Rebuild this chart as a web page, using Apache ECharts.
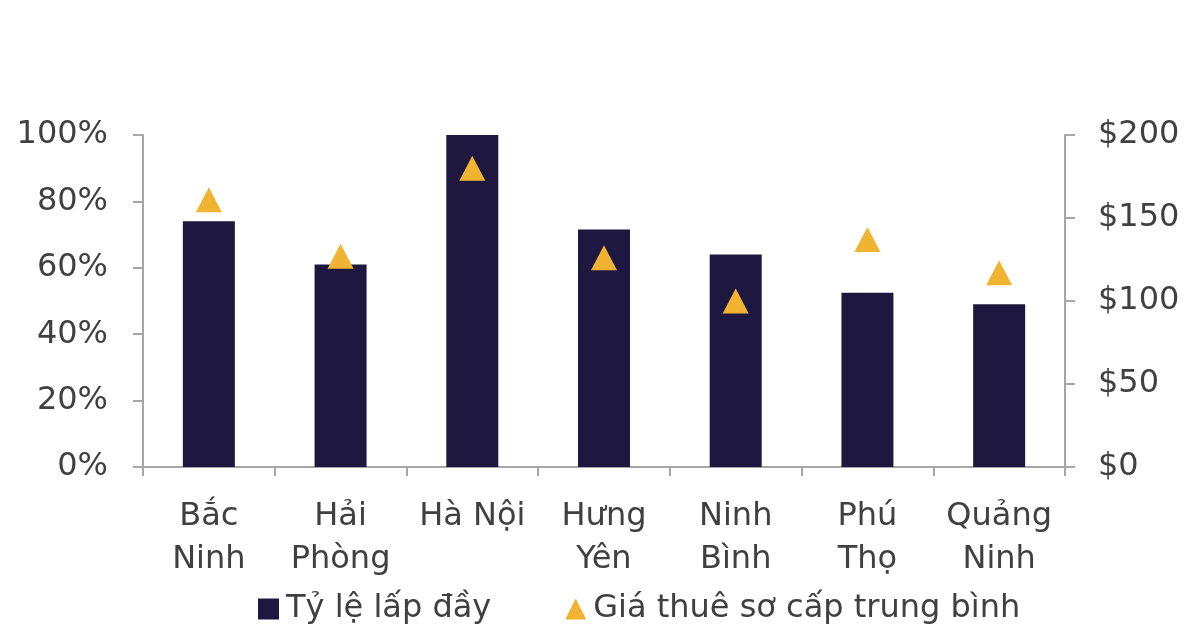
<!DOCTYPE html>
<html>
<head>
    <meta charset="UTF-8">
    <title>Tỷ lệ lấp đầy và giá thuê</title>
    <style type="text/css">
        html, body {
            margin: 0;
            padding: 0;
            background: #ffffff;
        }
        #chart {
            width: 1200px;
            height: 630px;
        }
    </style>
    <script src="https://cdn.jsdelivr.net/npm/echarts@6/dist/echarts.min.js"></script>
</head>
<body>
<div id="chart"></div>
<script>
    // du lieu doc tu hinh
    const provinces = ['Bắc\nNinh', 'Hải\nPhòng', 'Hà Nội', 'Hưng\nYên', 'Ninh\nBình', 'Phú\nThọ', 'Quảng\nNinh'];
    const occupancy = [74, 61, 100, 71.5, 64, 52.5, 49];
    const rent = [161, 127, 180, 126, 100, 137, 117];
    const occupancyTicks = [0, 20, 40, 60, 80, 100];
    const rentTicks = [0, 50, 100, 150, 200];

    const axisGrey = '#a6a6a6';
    const textGrey = '#404040';
    const font = 'DejaVu Sans, Liberation Sans, Arial, sans-serif';

    let myChart = echarts.init(document.getElementById('chart'));

    let option = {
        animation: false,
        grid: {
            left: 143,
            right: 135,
            top: 135,
            bottom: 163
        },
        legend: {
            left: 253,
            top: 588,
            itemGap: 74,
            itemWidth: 21,
            itemHeight: 21,
            textStyle: {
                fontFamily: font,
                fontSize: 32,
                color: textGrey,
                padding: [0, 0, 0, 2]
            },
            data: [
                {name: 'Tỷ lệ lấp đầy', icon: 'rect'},
                {name: 'Giá thuê sơ cấp trung bình', icon: 'triangle'}
            ]
        },
        xAxis: {
            type: 'category',
            data: provinces,
            axisLine: {lineStyle: {color: axisGrey, width: 2}},
            axisTick: {show: true, length: 9, lineStyle: {color: axisGrey, width: 2}},
            axisLabel: {
                interval: 0,
                margin: 28,
                fontFamily: font,
                fontSize: 32,
                lineHeight: 43,
                color: textGrey
            }
        },
        yAxis: [
            {
                type: 'value',
                min: occupancyTicks[0],
                max: occupancyTicks[occupancyTicks.length - 1],
                interval: 20,
                splitLine: {show: false},
                axisLine: {show: true, lineStyle: {color: axisGrey, width: 2}},
                axisTick: {show: true, length: 10, lineStyle: {color: axisGrey, width: 2}},
                axisLabel: {
                    margin: 35,
                    fontFamily: font,
                    fontSize: 32,
                    color: textGrey,
                    formatter: '{value}%'
                }
            },
            {
                type: 'value',
                position: 'right',
                min: rentTicks[0],
                max: rentTicks[rentTicks.length - 1],
                interval: 50,
                splitLine: {show: false},
                axisLine: {show: true, lineStyle: {color: axisGrey, width: 2}},
                axisTick: {show: true, length: 10, lineStyle: {color: axisGrey, width: 2}},
                axisLabel: {
                    margin: 33,
                    fontFamily: font,
                    fontSize: 32,
                    color: textGrey,
                    formatter: '${value}'
                }
            }
        ],
        series: [
            {
                name: 'Tỷ lệ lấp đầy',
                type: 'bar',
                yAxisIndex: 0,
                barWidth: 52,
                itemStyle: {color: '#1e1841'},
                data: occupancy
            },
            {
                name: 'Giá thuê sơ cấp trung bình',
                type: 'scatter',
                yAxisIndex: 1,
                symbol: 'triangle',
                symbolSize: [26, 25],
                itemStyle: {color: '#f0b432', opacity: 1},
                data: rent
            }
        ]
    };

    myChart.setOption(option);
</script>
</body>
</html>
